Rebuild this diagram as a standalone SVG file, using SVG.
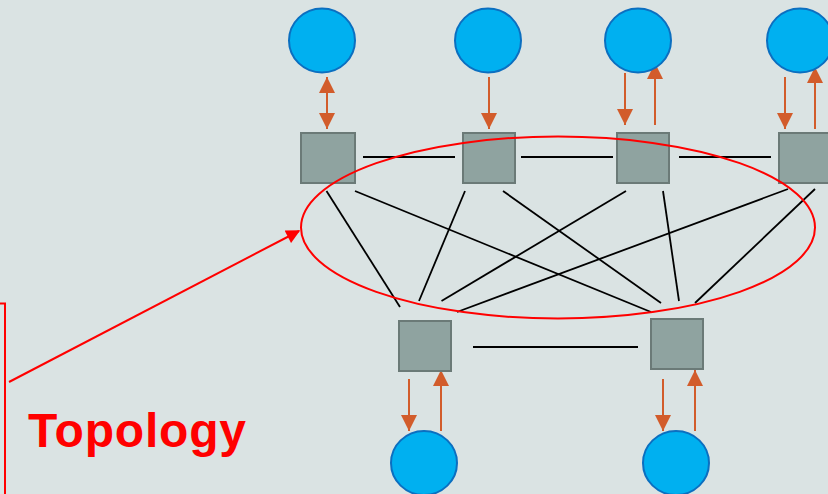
<svg xmlns="http://www.w3.org/2000/svg" width="828" height="494" viewBox="0 0 828 494">
<defs>
<marker id="oh" viewBox="0 0 10 10" refX="10" refY="5" markerWidth="8" markerHeight="8" markerUnits="strokeWidth" orient="auto-start-reverse"><path d="M0,0 L10,5 L0,10 z" fill="#d25c2b"/></marker>
<marker id="rh" viewBox="0 0 10 10" refX="9" refY="5" markerWidth="8" markerHeight="7" orient="auto"><path d="M0,0 L10,5 L0,10 z" fill="#ff0000"/></marker>
</defs>
<style>
.host{fill:#00b0f0;stroke:#0b6fc0;stroke-width:2}
.sw{fill:#8fa3a0;stroke:#6b7a77;stroke-width:2}
.ln{stroke:#000;stroke-width:1.8;fill:none}
.ar{stroke:#d25c2b;stroke-width:2;fill:none;marker-end:url(#oh)}
.red{stroke:#ff0000;stroke-width:2;fill:none}
</style>
<rect width="828" height="494" fill="#dae3e3"/>
<g id="connectors">
<line class="ln" x1="363" y1="157" x2="455" y2="157"/>
<line class="ln" x1="521" y1="157" x2="613" y2="157"/>
<line class="ln" x1="679" y1="157" x2="771" y2="157"/>
<line class="ln" x1="473" y1="347" x2="638" y2="347"/>
<line class="ln" x1="326.5" y1="191" x2="400" y2="307"/>
<line class="ln" x1="355" y1="191" x2="651" y2="312"/>
<line class="ln" x1="465" y1="191" x2="419" y2="301"/>
<line class="ln" x1="503" y1="191" x2="661" y2="303"/>
<line class="ln" x1="626" y1="191" x2="441.5" y2="301"/>
<line class="ln" x1="663" y1="191" x2="679" y2="301"/>
<line class="ln" x1="788" y1="189" x2="457" y2="312"/>
<line class="ln" x1="815" y1="189" x2="695" y2="303"/>
<line class="ar" x1="327" y1="77" x2="327" y2="129" style="marker-start:url(#oh)"/>
<line class="ar" x1="489" y1="77" x2="489" y2="129"/>
<line class="ar" x1="625" y1="73" x2="625" y2="125"/>
<line class="ar" x1="655" y1="125" x2="655" y2="63"/>
<line class="ar" x1="785" y1="77" x2="785" y2="129"/>
<line class="ar" x1="815" y1="129" x2="815" y2="67"/>
<line class="ar" x1="409" y1="379" x2="409" y2="431"/>
<line class="ar" x1="441" y1="431" x2="441" y2="370"/>
<line class="ar" x1="663" y1="379" x2="663" y2="431"/>
<line class="ar" x1="695" y1="431" x2="695" y2="370"/>
</g>
<g id="host1"><ellipse class="host" cx="322" cy="40.5" rx="33" ry="32"/></g>
<g id="host2"><ellipse class="host" cx="488" cy="40.5" rx="33" ry="32"/></g>
<g id="host3"><ellipse class="host" cx="638" cy="40.5" rx="33" ry="32"/></g>
<g id="host4"><ellipse class="host" cx="800" cy="40.5" rx="33" ry="32"/></g>
<g id="host5"><ellipse class="host" cx="424" cy="463" rx="33" ry="32"/></g>
<g id="host6"><ellipse class="host" cx="676" cy="463" rx="33" ry="32"/></g>
<g id="switch1"><rect class="sw" x="301" y="133" width="54" height="50"/></g>
<g id="switch2"><rect class="sw" x="463" y="133" width="52" height="50"/></g>
<g id="switch3"><rect class="sw" x="617" y="133" width="52" height="50"/></g>
<g id="switch4"><rect class="sw" x="779" y="133" width="54" height="50"/></g>
<g id="switch5"><rect class="sw" x="399" y="321" width="52" height="50"/></g>
<g id="switch6"><rect class="sw" x="651" y="319" width="52" height="50"/></g>
<g id="ring"><ellipse class="red" cx="558" cy="227.5" rx="257" ry="91"/></g>
<g id="label">
<rect class="red" x="-100" y="303.5" width="105" height="300" stroke-width="1.6"/>
<line class="red" x1="9" y1="382" x2="299" y2="231" style="marker-end:url(#rh)" stroke-width="1.8"/>
<text x="28" y="447" font-family="Liberation Sans, Arial, sans-serif" font-weight="bold" font-size="48" letter-spacing="0.8" fill="#ff0000">Topology</text>
</g>
</svg>
